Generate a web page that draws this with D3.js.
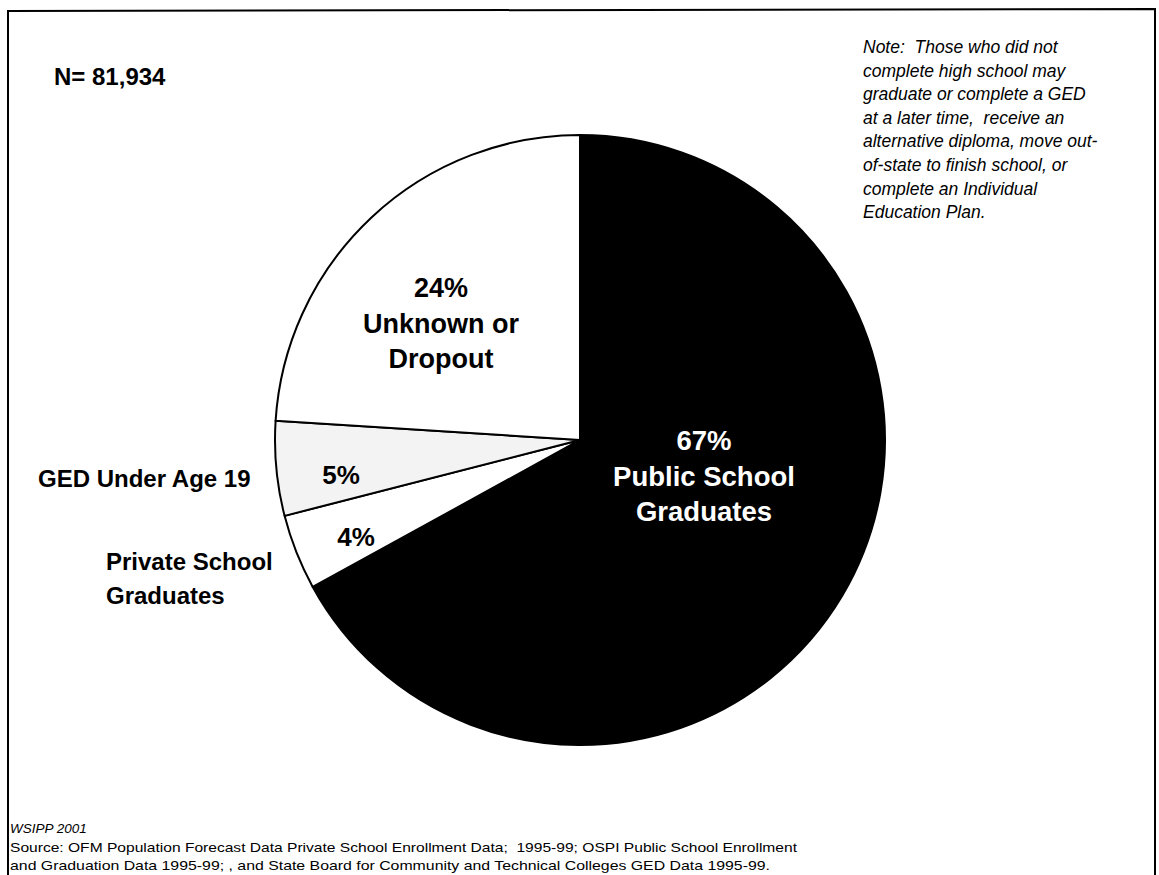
<!DOCTYPE html>
<html>
<head>
<meta charset="utf-8">
<script src="https://cdn.jsdelivr.net/npm/d3@7"></script>
<style>
  html, body { margin: 0; padding: 0; background: #fff; }
  svg { display: block; font-family: "Liberation Sans", Arial, Helvetica, sans-serif; }
  text { white-space: pre; }
</style>
</head>
<body>
<div id="chart"></div>
<script>
// slices, clockwise from 12 o'clock
const categories = ['Public School Graduates', 'Private School Graduates', 'GED Under Age 19', 'Unknown or Dropout'];
const shares = [67, 4, 5, 24];
const totalN = '81,934';

const noteLines = [
  'Note:  Those who did not',
  'complete high school may',
  'graduate or complete a GED',
  'at a later time,  receive an',
  'alternative diploma, move out-',
  'of-state to finish school, or',
  'complete an Individual',
  'Education Plan.'
];

const sourceLines = [
  'Source: OFM Population Forecast Data Private School Enrollment Data;  1995-99; OSPI Public School Enrollment',
  'and Graduation Data 1995-99; , and State Board for Community and Technical Colleges GED Data 1995-99.'
];

const width = 1159, height = 875;
const cx = 580, cy = 440, radius = 305;

const fills = ['#000', '#fff', '#f3f3f3', '#fff'];

const svg = d3.select('#chart').append('svg')
  .attr('width', width)
  .attr('height', height);

// frame (bottom edge runs off the page)
svg.append('path')
  .attr('d', `M8,${height + 5} L8,11 L1155,9 L1155,${height + 5}`)
  .attr('fill', 'none')
  .attr('stroke', '#000')
  .attr('stroke-width', 2);

const data = categories.map((c, i) => ({ category: c, value: shares[i], fill: fills[i] }));

const pie = d3.pie().sort(null).value(d => d.value);
const arc = d3.arc().innerRadius(0).outerRadius(radius);

const g = svg.append('g').attr('transform', `translate(${cx},${cy})`);

g.selectAll('path.slice')
  .data(pie(data))
  .enter()
  .append('path')
  .attr('class', 'slice')
  .attr('d', arc)
  .attr('fill', d => d.data.fill)
  .attr('stroke', '#000')
  .attr('stroke-width', 2)
  .attr('stroke-linejoin', 'round');

// label layout, relative to pie centre
const labelLayout = {
  'Public School Graduates': { dx: 124, y0: 10, lines: (v) => [`${v}%`, 'Public School', 'Graduates'], color: '#fff', size: 27.5 },
  'Unknown or Dropout': { dx: -139, y0: -143, lines: (v) => [`${v}%`, 'Unknown or', 'Dropout'], color: '#000', size: 27 },
  'GED Under Age 19': { dx: -239, y0: 44, lines: (v) => [`${v}%`], color: '#000', size: 26 },
  'Private School Graduates': { dx: -224, y0: 106, lines: (v) => [`${v}%`], color: '#000', size: 26 }
};

pie(data).forEach(d => {
  const L = labelLayout[d.data.category];
  const t = g.append('text')
    .attr('text-anchor', 'middle')
    .attr('fill', L.color)
    .attr('font-size', L.size)
    .attr('font-weight', 'bold');
  L.lines(d.data.value).forEach((s, i) => {
    t.append('tspan')
      .attr('x', L.dx)
      .attr('y', L.y0 + i * 35.5)
      .text(s);
  });
});

// outside labels
svg.append('text')
  .attr('x', 38).attr('y', 487)
  .attr('font-size', 24).attr('font-weight', 'bold')
  .text(categories[2]);

const priv = svg.append('text')
  .attr('font-size', 24).attr('font-weight', 'bold');
priv.append('tspan').attr('x', 106).attr('y', 570).text('Private School');
priv.append('tspan').attr('x', 106).attr('y', 604).text('Graduates');

svg.append('text')
  .attr('x', 54).attr('y', 85)
  .attr('font-size', 24).attr('font-weight', 'bold')
  .text(`N= ${totalN}`);

// note
svg.append('g')
  .selectAll('text')
  .data(noteLines)
  .enter()
  .append('text')
  .attr('x', 863)
  .attr('y', (d, i) => 53 + i * 23.6)
  .attr('font-size', 17.5)
  .attr('font-style', 'italic')
  .text(d => d);

// footer
svg.append('text')
  .attr('x', 10).attr('y', 833)
  .attr('font-size', 13.5)
  .attr('font-style', 'italic')
  .text('WSIPP 2001');

svg.append('g')
  .selectAll('text')
  .data(sourceLines)
  .enter()
  .append('text')
  .attr('x', 10)
  .attr('y', (d, i) => 852 + i * 18)
  .attr('font-size', 13)
  .attr('textLength', (d, i) => i === 0 ? 787 : 760)
  .attr('lengthAdjust', 'spacingAndGlyphs')
  .text(d => d);
</script>
</body>
</html>
